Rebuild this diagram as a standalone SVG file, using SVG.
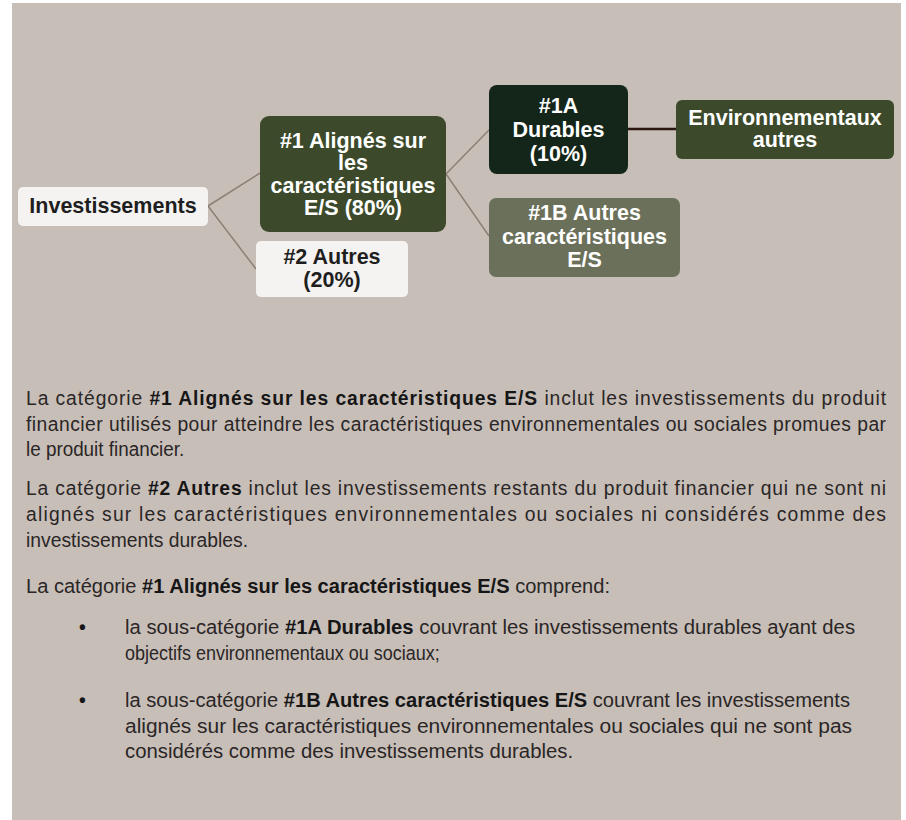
<svg xmlns="http://www.w3.org/2000/svg" width="906" height="820" viewBox="0 0 906 820">
<style>
.nt{font-family:"Liberation Sans",Arial,sans-serif;font-weight:bold;font-size:21.5px;text-anchor:middle}
.w{fill:#ffffff}
.k{fill:#1e1e1e}
.bt{font-family:"Liberation Sans",Arial,sans-serif;font-size:21px;fill:#2a2626}
.b{font-weight:bold;fill:#161616}
.c{stroke:#8c8075;stroke-width:1.5;fill:none}
</style>
<rect x="12" y="3" width="889" height="817" fill="#c8beb8"/>
<g id="connectors">
<line class="c" x1="208" y1="206" x2="260" y2="173"/>
<line class="c" x1="208" y1="206" x2="256" y2="269"/>
<line class="c" x1="446" y1="174" x2="489" y2="130"/>
<line class="c" x1="446" y1="174" x2="489" y2="236"/>
<line x1="628" y1="129" x2="676" y2="129" stroke="#2b1710" stroke-width="2.5"/>
</g>
<g id="n-invest">
<rect x="18" y="187" width="190" height="39" rx="5" fill="#f4f3f1"/>
<text class="nt k" x="113" y="213">Investissements</text>
</g>
<g id="n-1">
<rect x="260" y="116" width="186" height="116" rx="9" fill="#3c4a2b"/>
<text class="nt w" x="353" y="148">#1 Alignés sur</text>
<text class="nt w" x="353" y="170">les</text>
<text class="nt w" x="353" y="193">caractéristiques</text>
<text class="nt w" x="353" y="215">E/S (80%)</text>
</g>
<g id="n-2">
<rect x="256" y="241" width="152" height="56" rx="5" fill="#f4f3f1"/>
<text class="nt k" x="332" y="264">#2 Autres</text>
<text class="nt k" x="332" y="287">(20%)</text>
</g>
<g id="n-1a">
<rect x="489" y="85" width="139" height="89" rx="8" fill="#14261a"/>
<text class="nt w" x="558.5" y="113">#1A</text>
<text class="nt w" x="558.5" y="137">Durables</text>
<text class="nt w" x="558.5" y="161">(10%)</text>
</g>
<g id="n-env">
<rect x="676" y="100" width="218" height="59" rx="6" fill="#3c4a2b"/>
<text class="nt w" x="785" y="125">Environnementaux</text>
<text class="nt w" x="785" y="147">autres</text>
</g>
<g id="n-1b">
<rect x="489" y="198" width="191" height="79" rx="7" fill="#6b705a"/>
<text class="nt w" x="584.5" y="220">#1B Autres</text>
<text class="nt w" x="584.5" y="244">caractéristiques</text>
<text class="nt w" x="584.5" y="267">E/S</text>
</g>
<g id="body" transform="scale(0.92,1)">
<text class="bt" x="28.26" y="405" textLength="934.8" lengthAdjust="spacing">La catégorie <tspan class="b">#1 Alignés sur les caractéristiques E/S</tspan> inclut les investissements du produit</text>
<text class="bt" x="28.26" y="431" textLength="934.8" lengthAdjust="spacing">financier utilisés pour atteindre les caractéristiques environnementales ou sociales promues par</text>
<text class="bt" x="28.26" y="456" textLength="172" lengthAdjust="spacingAndGlyphs">le produit financier.</text>
<text class="bt" x="28.26" y="495" textLength="934.8" lengthAdjust="spacing">La catégorie <tspan class="b">#2 Autres</tspan> inclut les investissements restants du produit financier qui ne sont ni</text>
<text class="bt" x="28.26" y="521" textLength="934.8" lengthAdjust="spacing">alignés sur les caractéristiques environnementales ou sociales ni considérés comme des</text>
<text class="bt" x="28.26" y="547">investissements durables.</text>
<text class="bt" x="28.26" y="593" textLength="634.8" lengthAdjust="spacingAndGlyphs">La catégorie <tspan class="b">#1 Alignés sur les caractéristiques E/S</tspan> comprend:</text>
<text class="bt b" x="85.87" y="634">•</text>
<text class="bt" x="135.87" y="634" textLength="793.5" lengthAdjust="spacingAndGlyphs">la sous-catégorie <tspan class="b">#1A Durables</tspan> couvrant les investissements durables ayant des</text>
<text class="bt" x="135.87" y="660" textLength="342" lengthAdjust="spacingAndGlyphs">objectifs environnementaux ou sociaux;</text>
<text class="bt b" x="85.87" y="707">•</text>
<text class="bt" x="135.87" y="707" textLength="788" lengthAdjust="spacingAndGlyphs">la sous-catégorie <tspan class="b">#1B Autres caractéristiques E/S</tspan> couvrant les investissements</text>
<text class="bt" x="135.87" y="733" textLength="790.2" lengthAdjust="spacingAndGlyphs">alignés sur les caractéristiques environnementales ou sociales qui ne sont pas</text>
<text class="bt" x="135.87" y="758" textLength="487" lengthAdjust="spacingAndGlyphs">considérés comme des investissements durables.</text>
</g>
</svg>
